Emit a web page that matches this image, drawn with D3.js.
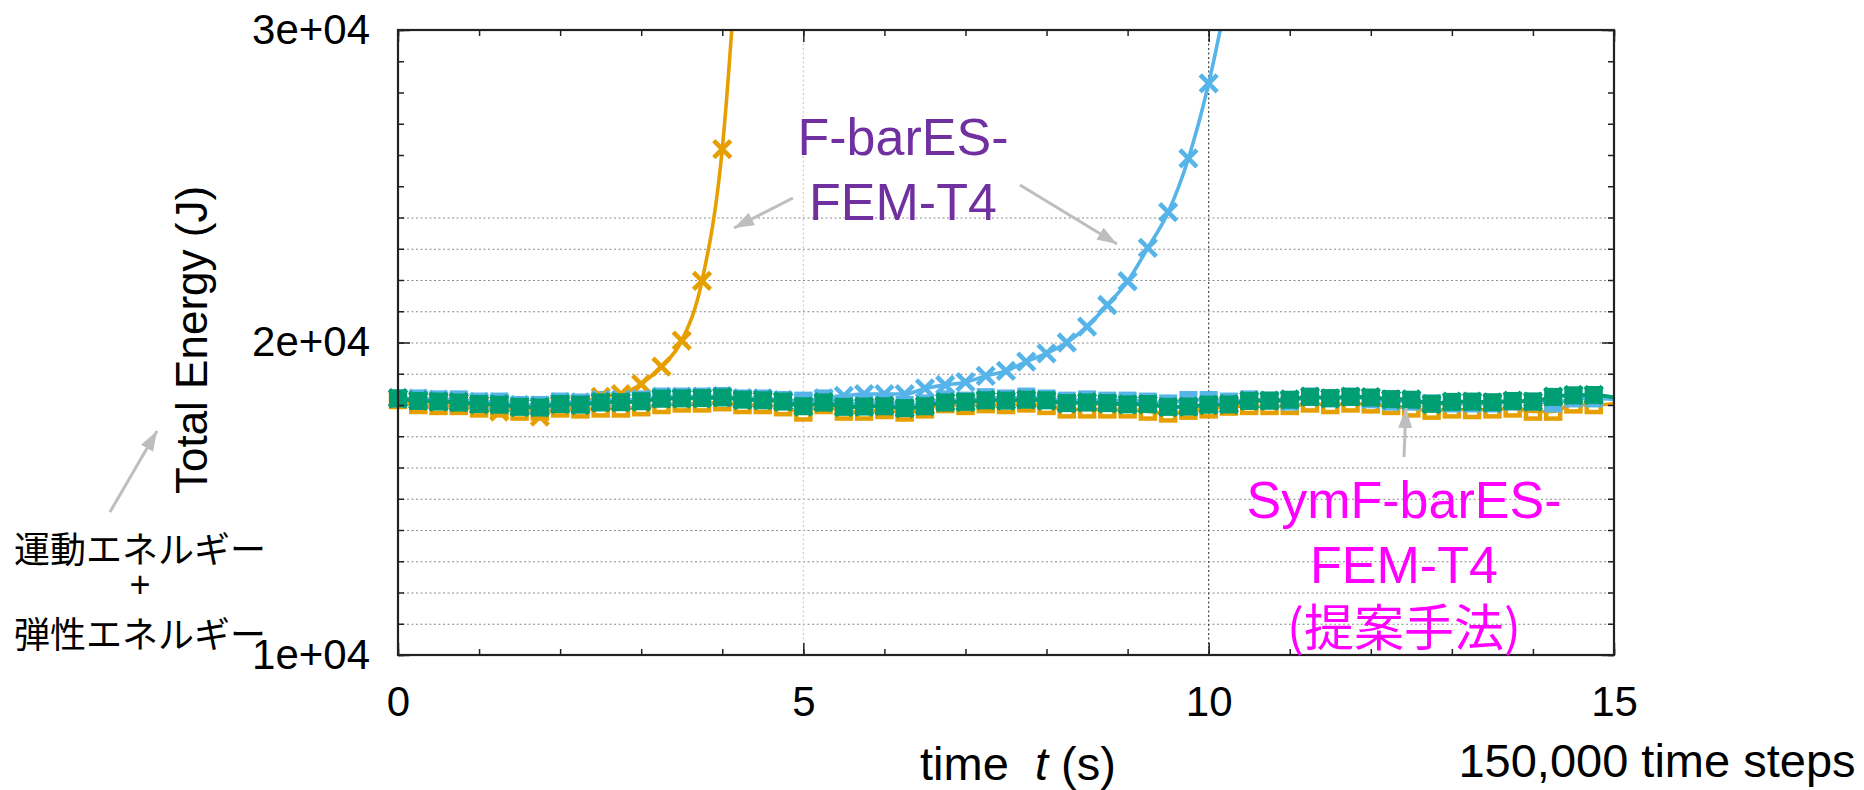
<!DOCTYPE html>
<html>
<head>
<meta charset="utf-8">
<script src="https://cdn.jsdelivr.net/npm/d3@7"></script>
<style>
body { margin: 0; background: #fff; }
svg { font-family: "Liberation Sans", Arial, "Noto Sans CJK JP", sans-serif; }
</style>
</head>
<body>
<svg id="chart" width="1864" height="790"></svg>
<script>
// output every 0.25 s from 0 to 15 s
var times = d3.range(61).map(function(i){ return i * 0.25; });

// F-barES-FEM-T4 (blows up)
var fbarOrange = [18210,18140,18100,18060,17980,17790,17930,17630,17990,18050,
  18260,18350,18670,19230,20060,21970,26190,35200];
var fbarBlue = [18220,18200,18170,18150,18100,18080,18000,17990,18090,18080,
  18160,18170,18190,18260,18260,18270,18280,18220,18210,18160,
  18110,18210,18290,18350,18350,18350,18530,18640,18730,18930,
  19090,19390,19650,20000,20510,21200,21960,23030,24170,25890,
  28290,31400];
var crossGreen = [18210,18140,18110,18090,18020,18020,17930,17930,18030,18000,
  18090,18090,18110,18210,18210,18210,18250,18160,18160,18110,
  17950,18090,17930,17950,17970,17890,17970,18090,18090,18160,
  18140,18180,18140,18050,18090,18050,18020,18020,17930,17950,
  18000,18020,18140,18140,18180,18270,18210,18270,18250,18180,
  18180,18030,18110,18110,18080,18140,18110,18270,18320,18320,
  18250];

// SymF-barES-FEM-T4
var symOrange = [18160,18000,17970,17970,17890,17890,17790,17790,17890,17860,
  17890,17890,17930,18000,18050,18050,18090,18000,18000,17930,
  17760,18000,17790,17790,17840,17760,17860,18030,17970,18030,
  18000,18050,17970,17860,17860,17860,17860,17790,17730,17820,
  17860,17950,17970,17970,17970,18050,18000,18050,18020,17970,
  17890,17820,17860,17840,17860,17890,17790,17790,18020,18000,
  18050];
var symBlue = [18210,18210,18180,18180,18110,18110,18000,18000,18110,18080,
  18160,18160,18180,18270,18270,18270,18290,18210,18210,18160,
  18140,18210,18050,18050,18080,18000,18050,18180,18140,18250,
  18210,18270,18210,18140,18180,18140,18140,18110,18050,18160,
  18160,18110,18180,18140,18110,18270,18210,18270,18180,18110,
  18110,18050,18050,18050,18050,18110,18110,18050,18210,18210,
  18180];
var symGreen = [18210,18130,18110,18080,18030,18010,17940,17920,18030,18010,
  18080,18090,18120,18200,18210,18220,18240,18170,18150,18110,
  17960,18080,17940,17950,17960,17900,17960,18080,18100,18150,
  18140,18170,18150,18060,18080,18060,18020,18030,17940,17950,
  18010,18020,18130,18140,18170,18260,18220,18260,18240,18190,
  18170,18040,18100,18110,18090,18130,18110,18260,18310,18320,
  18240];

var xMajor = [0, 5, 10, 15];
var yMajor = [10000, 20000, 30000];

var orange = "#E69F00", blue = "#56B4E9", green = "#009E73";

var pL = 398, pR = 1614, pT = 30, pB = 655;
var x = d3.scaleLinear().domain([0, 15]).range([pL, pR]);
var y = d3.scaleLinear().domain([10000, 30000]).range([pB, pT]);

var svg = d3.select("#chart");

// grid (horizontal only up to 24000 as in the original)
svg.append("g")
  .attr("transform", "translate(" + pL + ",0)")
  .call(d3.axisLeft(y).tickValues(d3.range(11000, 24001, 1000)).tickSize(-(pR - pL)).tickFormat(""))
  .call(function(g){ g.select(".domain").remove(); })
  .selectAll("line").attr("stroke", "#8a8a8a").attr("stroke-width", 1.2).attr("stroke-dasharray", "2,2.5");

svg.append("line").attr("x1", x(5)).attr("x2", x(5)).attr("y1", pT).attr("y2", pB)
  .attr("stroke", "#cfcfcf").attr("stroke-width", 1.2).attr("stroke-dasharray", "2,2.5");
svg.append("line").attr("x1", x(10)).attr("x2", x(10)).attr("y1", pT).attr("y2", pB)
  .attr("stroke", "#444").attr("stroke-width", 1.2).attr("stroke-dasharray", "2,2.5");

// series
svg.append("clipPath").attr("id", "clip")
  .append("rect").attr("x", 0).attr("y", pT).attr("width", 1864).attr("height", pB - pT);

var series = [
  {vals: symOrange, color: orange, mark: "osq"},
  {vals: symBlue, color: blue, mark: "sq"},
  {vals: fbarOrange, color: orange, mark: "x"},
  {vals: fbarBlue, color: blue, mark: "x"},
  {vals: symGreen, color: green, mark: "sq"},
  {vals: crossGreen, color: green, mark: "x"}
];

var line = d3.line()
  .x(function(d, i){ return x(times[i]); })
  .y(function(d){ return y(d); })
  .curve(d3.curveMonotoneX);

var plot = svg.append("g").attr("clip-path", "url(#clip)");

series.forEach(function(s){
  var g = plot.append("g");
  g.append("path").datum(s.vals)
    .attr("d", line)
    .attr("fill", "none")
    .attr("stroke", s.color)
    .attr("stroke-width", 3.6);

  var pts = s.vals.map(function(v, i){ return {t: times[i], v: v}; })
    .filter(function(d){ return d.t < 15; });

  var m = g.selectAll(".m").data(pts).enter().append("g")
    .attr("transform", function(d){ return "translate(" + x(d.t) + "," + y(d.v) + ")"; });
  if (s.mark == "x") {
    m.append("path").attr("d", "M-8.5,-8.5L8.5,8.5M-8.5,8.5L8.5,-8.5")
      .attr("stroke", s.color).attr("stroke-width", 4.6).attr("fill", "none");
  } else if (s.mark == "sq") {
    m.append("rect").attr("x", -9).attr("y", -9).attr("width", 18).attr("height", 18)
      .attr("fill", s.color);
  } else {
    m.append("rect").attr("x", -7).attr("y", -7).attr("width", 14).attr("height", 14)
      .attr("fill", "none").attr("stroke", s.color).attr("stroke-width", 4.5);
  }
});

// axes
function styleAxis(g) {
  g.select(".domain").remove();
  g.selectAll("line").attr("stroke", "#222").attr("stroke-width", 1.5);
}

svg.append("g").attr("transform", "translate(" + pL + ",0)")
  .call(d3.axisLeft(y).tickValues(d3.range(10000, 30001, 1000)).tickSize(-6).tickFormat(""))
  .call(styleAxis);
svg.append("g").attr("transform", "translate(" + pR + ",0)")
  .call(d3.axisRight(y).tickValues(d3.range(10000, 30001, 1000)).tickSize(-6).tickFormat(""))
  .call(styleAxis);
svg.append("g").attr("transform", "translate(0," + pB + ")")
  .call(d3.axisBottom(x).tickValues(d3.range(0, 16)).tickSize(-6).tickFormat(""))
  .call(styleAxis);
svg.append("g").attr("transform", "translate(0," + pT + ")")
  .call(d3.axisTop(x).tickValues(d3.range(0, 16)).tickSize(-6).tickFormat(""))
  .call(styleAxis);

var yAxis = svg.append("g").attr("transform", "translate(" + pL + ",0)")
  .call(d3.axisLeft(y).tickValues(yMajor).tickSize(-12).tickPadding(28)
    .tickFormat(function(d){ return (d / 10000) + "e+04"; }))
  .call(styleAxis);
yAxis.selectAll("text").attr("font-size", 42).attr("fill", "#000")
  .attr("font-family", "Liberation Sans, Arial, sans-serif");

svg.append("g").attr("transform", "translate(" + pR + ",0)")
  .call(d3.axisRight(y).tickValues(yMajor).tickSize(-12).tickFormat(""))
  .call(styleAxis);

var xAxis = svg.append("g").attr("transform", "translate(0," + pB + ")")
  .call(d3.axisBottom(x).tickValues(xMajor).tickSize(-12).tickPadding(31))
  .call(styleAxis);
xAxis.selectAll("text").attr("font-size", 42).attr("fill", "#000")
  .attr("font-family", "Liberation Sans, Arial, sans-serif");

svg.append("g").attr("transform", "translate(0," + pT + ")")
  .call(d3.axisTop(x).tickValues(xMajor).tickSize(-12).tickFormat(""))
  .call(styleAxis);

// frame
svg.append("rect").attr("x", pL).attr("y", pT)
  .attr("width", pR - pL).attr("height", pB - pT)
  .attr("fill", "none").attr("stroke", "#222").attr("stroke-width", 2.2);

// axis titles
svg.append("text")
  .attr("transform", "translate(207,340) rotate(-90)")
  .attr("text-anchor", "middle").attr("font-size", 44)
  .text("Total Energy (J)");

var xt = svg.append("text").attr("x", 1018).attr("y", 780)
  .attr("text-anchor", "middle").attr("font-size", 47).style("white-space", "pre");
xt.append("tspan").text("time  ");
xt.append("tspan").attr("font-style", "italic").text("t");
xt.append("tspan").text(" (s)");

svg.append("text").attr("x", 1657).attr("y", 777)
  .attr("text-anchor", "middle").attr("font-size", 47)
  .text("150,000 time steps");

// annotations
svg.append("defs").append("marker")
  .attr("id", "head").attr("markerUnits", "userSpaceOnUse")
  .attr("markerWidth", 22).attr("markerHeight", 16)
  .attr("refX", 20).attr("refY", 7).attr("orient", "auto")
  .append("path").attr("d", "M0,0L20,7L0,14Z").attr("fill", "#bebebe");

var arrows = [
  [110, 512, 157, 431],
  [793, 198, 734, 228],
  [1020, 185, 1117, 244],
  [1404, 457, 1406, 408]
];
arrows.forEach(function(a){
  svg.append("line").attr("x1", a[0]).attr("y1", a[1]).attr("x2", a[2]).attr("y2", a[3])
    .attr("stroke", "#bebebe").attr("stroke-width", 3).attr("marker-end", "url(#head)");
});

var jp = svg.append("g").attr("font-family", "Noto Sans CJK JP, sans-serif")
  .attr("font-size", 36).attr("text-anchor", "middle").attr("fill", "#000");
jp.append("text").attr("x", 140).attr("y", 563).text("運動エネルギー");
jp.append("text").attr("x", 140).attr("y", 597).attr("font-family", "Liberation Sans, Arial, sans-serif").text("+");
jp.append("text").attr("x", 140).attr("y", 648).text("弾性エネルギー");

var purple = svg.append("g").attr("font-size", 52).attr("text-anchor", "middle").attr("fill", "#7030A0");
purple.append("text").attr("x", 903).attr("y", 155).text("F-barES-");
purple.append("text").attr("x", 903).attr("y", 220).text("FEM-T4");

var mag = svg.append("g").attr("font-size", 52).attr("text-anchor", "middle").attr("fill", "#FF00FF");
mag.append("text").attr("x", 1404).attr("y", 518).text("SymF-barES-");
mag.append("text").attr("x", 1404).attr("y", 583).text("FEM-T4");
mag.append("text").attr("x", 1404).attr("y", 646)
  .attr("font-family", "Noto Sans CJK JP, sans-serif").attr("font-size", 50).text("(提案手法)");
</script>
</body>
</html>
